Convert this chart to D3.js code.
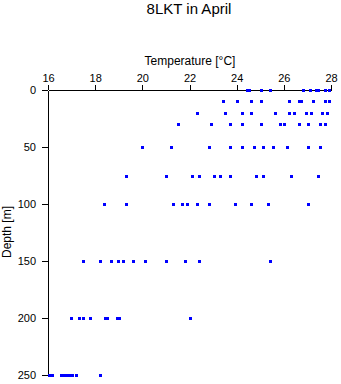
<!DOCTYPE html>
<html><head><meta charset="utf-8">
<script src="https://cdn.jsdelivr.net/npm/d3@7"></script>
<style>body{margin:0;background:#fff}svg{display:block}text{font-family:"Liberation Sans",Arial,sans-serif;fill:#000}</style>
</head><body>
<svg id="c" width="341" height="384"></svg>
<script>
const title = "8LKT in April";
const xLabel = "Temperature [°C]";
const yLabel = "Depth [m]";
const xTicks = [16, 18, 20, 22, 24, 26, 28];
const yTicks = [0, 50, 100, 150, 200, 250];
const depths = [0, 10, 20, 30, 50, 75, 100, 150, 200, 250];
const temps0   = [24.43, 24.52, 25.03, 25.43, 26.83, 27.12, 27.35, 27.44, 27.75, 27.93];
const temps10  = [23.41, 24.03, 24.62, 25.03, 26.23, 26.64, 26.72, 27.25, 27.73, 27.93];
const temps20  = [22.31, 23.52, 24.21, 24.62, 25.64, 26.23, 26.45, 26.93, 27.15, 27.63, 27.85];
const temps30  = [21.53, 22.93, 23.73, 24.24, 25.05, 25.83, 26.02, 26.63, 27.04, 27.55, 27.76];
const temps50  = [20.0, 21.22, 22.83, 23.73, 24.23, 24.72, 25.13, 25.53, 26.14, 27.04, 27.55];
const temps75  = [19.30, 21.02, 22.12, 22.42, 23.03, 23.31, 23.73, 24.83, 25.13, 26.32, 27.44];
const temps100 = [18.39, 19.31, 21.31, 21.70, 21.91, 22.32, 22.83, 23.93, 24.62, 25.34, 27.04];
const temps150 = [17.50, 18.21, 18.68, 18.98, 19.19, 19.60, 20.11, 21.02, 21.82, 22.42, 25.43];
const temps200 = [16.99, 17.30, 17.50, 17.79, 18.40, 18.49, 18.93, 19.00, 22.02];
const temps250 = [16.06, 16.19, 16.57, 16.68, 16.78, 16.89, 17.02, 17.19, 18.19];
const tempsByDepth = [temps0, temps10, temps20, temps30, temps50, temps75, temps100, temps150, temps200, temps250];

const points = [];
depths.forEach((d, i) => tempsByDepth[i].forEach(t => points.push({t, d})));

const svg = d3.select("#c");
const x = d3.scaleLinear().domain([16, 28]).range([48, 331]);
const y = d3.scaleLinear().domain([0, 250]).range([90, 375]);

const xa = svg.append("g").attr("transform", "translate(0,90)")
  .call(d3.axisTop(x).tickValues(xTicks).tickSize(5).tickSizeOuter(0).tickPadding(3).tickFormat(d3.format("d")));
const ya = svg.append("g").attr("transform", "translate(48,0)")
  .call(d3.axisLeft(y).tickValues(yTicks).tickSize(6).tickSizeOuter(0).tickPadding(6).tickFormat(d3.format("d")));
[xa, ya].forEach(g => {
  g.selectAll("path,line").attr("stroke", "#000").attr("shape-rendering", "crispEdges");
  g.selectAll("text").attr("font-size", 11).attr("font-family", '"Liberation Sans",Arial,sans-serif');
});

svg.append("g").selectAll("rect").data(points).join("rect")
  .attr("x", p => Math.round(x(p.t)) - 1.5)
  .attr("y", p => Math.round(y(p.d)) - 1.5)
  .attr("width", 3).attr("height", 3)
  .attr("fill", "#0000ff").attr("shape-rendering", "crispEdges");

svg.append("text").attr("x", 189).attr("y", 14).attr("text-anchor", "middle")
  .attr("font-size", 15).text(title);
svg.append("text").attr("x", 190).attr("y", 65).attr("text-anchor", "middle")
  .attr("font-size", 12).text(xLabel);
svg.append("text").attr("transform", "translate(11,232) rotate(-90)").attr("text-anchor", "middle")
  .attr("font-size", 12).text(yLabel);
</script>
</body></html>
